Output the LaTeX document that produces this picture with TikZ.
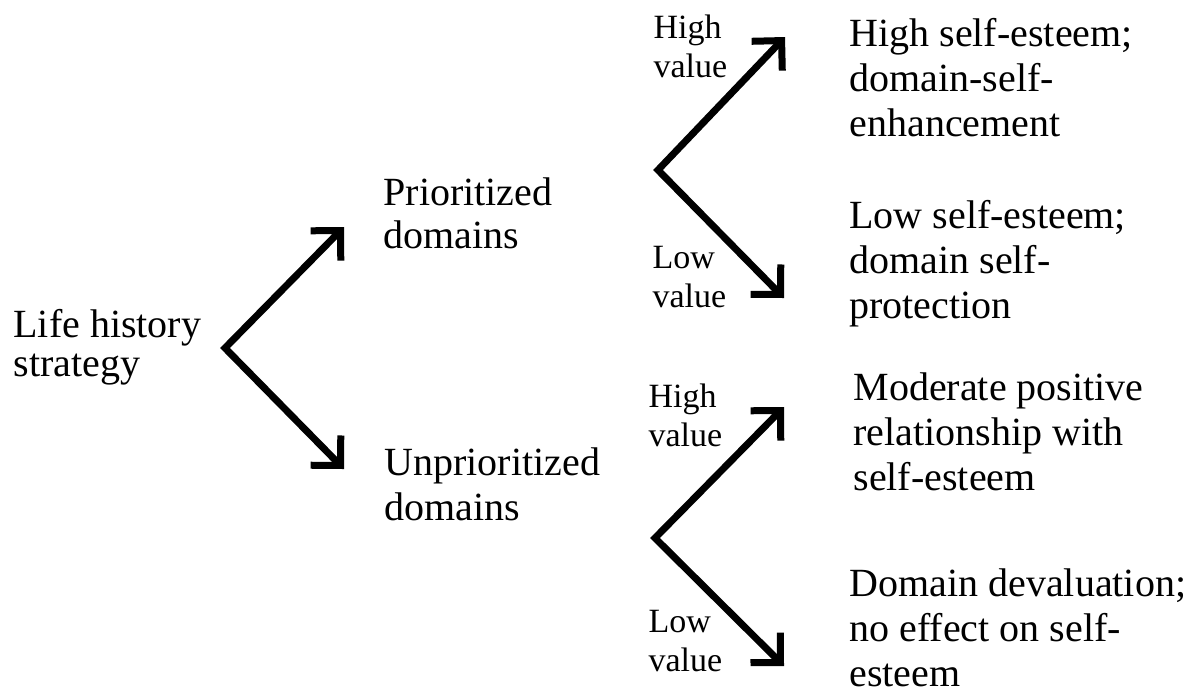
\documentclass[tikz,border=0pt]{standalone}
\usepackage{fontspec}
\setmainfont{Liberation Serif}
\usetikzlibrary{arrows.meta}

\begin{document}
\begin{tikzpicture}[x=0.5pt, y=-0.5pt, >={Straight Barb[angle=90:15pt]}, line width=3.5pt]
        \tikzstyle{maintext}=[anchor=north west, inner sep=0pt, align=left, font=\fontsize{20}{22.5}\selectfont]
        \tikzstyle{valtext}=[anchor=north west, inner sep=0pt, align=left, font=\fontsize{17}{19.5}\selectfont]

        \useasboundingbox (0,0) rectangle (1204,693);

        % left side
        \node[maintext, font=\fontsize{20}{19.5}\selectfont] (life) at (10,306) {Life history\\strategy};
        \node[maintext, font=\fontsize{20}{21.5}\selectfont] (prio) at (380,174) {Prioritized\\domains};
        \node[maintext] (unprio) at (381,444) {Unprioritized\\domains};

        % value labels
        \node[valtext] (hiA) at (650,11)  {High\\value};
        \node[valtext] (loA) at (649,243) {Low\\value};
        \node[valtext] (hiB) at (645,380) {High\\value};
        \node[valtext] (loB) at (645,607) {Low\\value};

        % outcomes
        \node[maintext] (highse) at (846,15)  {High self-esteem;\\domain-self-\\enhancement};
        \node[maintext] (lowse)  at (846,197) {Low self-esteem;\\domain self-\\protection};
        \node[maintext] (moder)  at (850,369) {Moderate positive\\relationship with\\self-esteem};
        \node[maintext] (deval)  at (846,565) {Domain devaluation;\\no effect on self-\\esteem};

        \coordinate (v0)  at (225,348);
        \coordinate (t0a) at (344,227);
        \coordinate (t0b) at (344,469);
        \coordinate (v1)  at (658,170);
        \coordinate (t1a) at (785,37);
        \coordinate (t1b) at (784,298);
        \coordinate (v2)  at (655,538);
        \coordinate (t2a) at (784,407);
        \coordinate (t2b) at (784,666);

        \draw[<->] (t0a) -- (v0) -- (t0b);
        \draw[<->] (t1a) -- (v1) -- (t1b);
        \draw[<->] (t2a) -- (v2) -- (t2b);
\end{tikzpicture}
\end{document}
